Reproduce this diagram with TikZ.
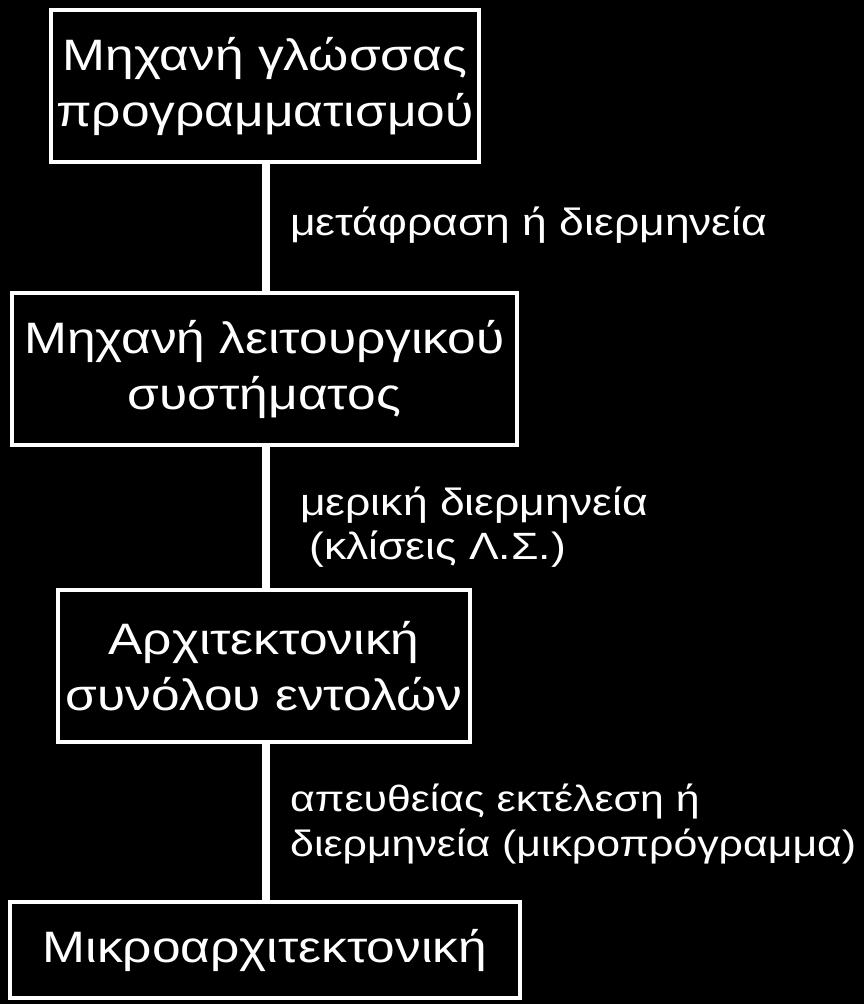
\documentclass[tikz,border=0pt]{standalone}
\usepackage{fontspec}
\setmainfont[FakeStretch=1.17]{Liberation Sans}
\begin{document}
\begin{tikzpicture}[x=1pt,y=-1pt,
  boxnode/.style={draw=white,line width=4pt,fill=black,text=white,align=center,inner sep=0pt,
    font=\fontsize{44}{56}\selectfont},
  lbl/.style={text=white,align=left,inner sep=0pt,anchor=base west,
    font=\fontsize{38}{44}\selectfont},
  conn/.style={draw=white,line width=7.5pt}]
\fill[black] (0,0) rectangle (864,1004);
\useasboundingbox (0,0) rectangle (864,1004);
\node[boxnode,minimum width=428pt,minimum height=152pt] (b1) at (265,86) {Μηχανή γλώσσας\\προγραμματισμού};
\node[boxnode,minimum width=505pt,minimum height=152pt] (b2) at (264.5,369) {Μηχανή λειτουργικού\\συστήματος};
\node[boxnode,minimum width=412pt,minimum height=152pt] (b3) at (264,666) {Αρχιτεκτονική\\συνόλου εντολών};
\node[boxnode,minimum width=510pt,minimum height=96pt] (b4) at (265,950) {Μικροαρχιτεκτονική};
\draw[conn] ([yshift=2pt]b1.south -| 266,0) -- ([yshift=-2pt]b2.north -| 266,0);
\draw[conn] ([yshift=2pt]b2.south -| 266,0) -- ([yshift=-2pt]b3.north -| 266,0);
\draw[conn] ([yshift=2pt]b3.south -| 266,0) -- ([yshift=-2pt]b4.north -| 266,0);
\node[lbl] (l1) at (290,235) {μετάφραση ή διερμηνεία};
\node[lbl] (l2) at (300,559) {μερική διερμηνεία\\\hspace*{9pt}(κλίσεις Λ.Σ.)};
\node[lbl,font=\fontsize{36.6}{45}\selectfont] (l3) at (290,856) {απευθείας εκτέλεση ή\\διερμηνεία (μικροπρόγραμμα)};
\end{tikzpicture}
\end{document}
